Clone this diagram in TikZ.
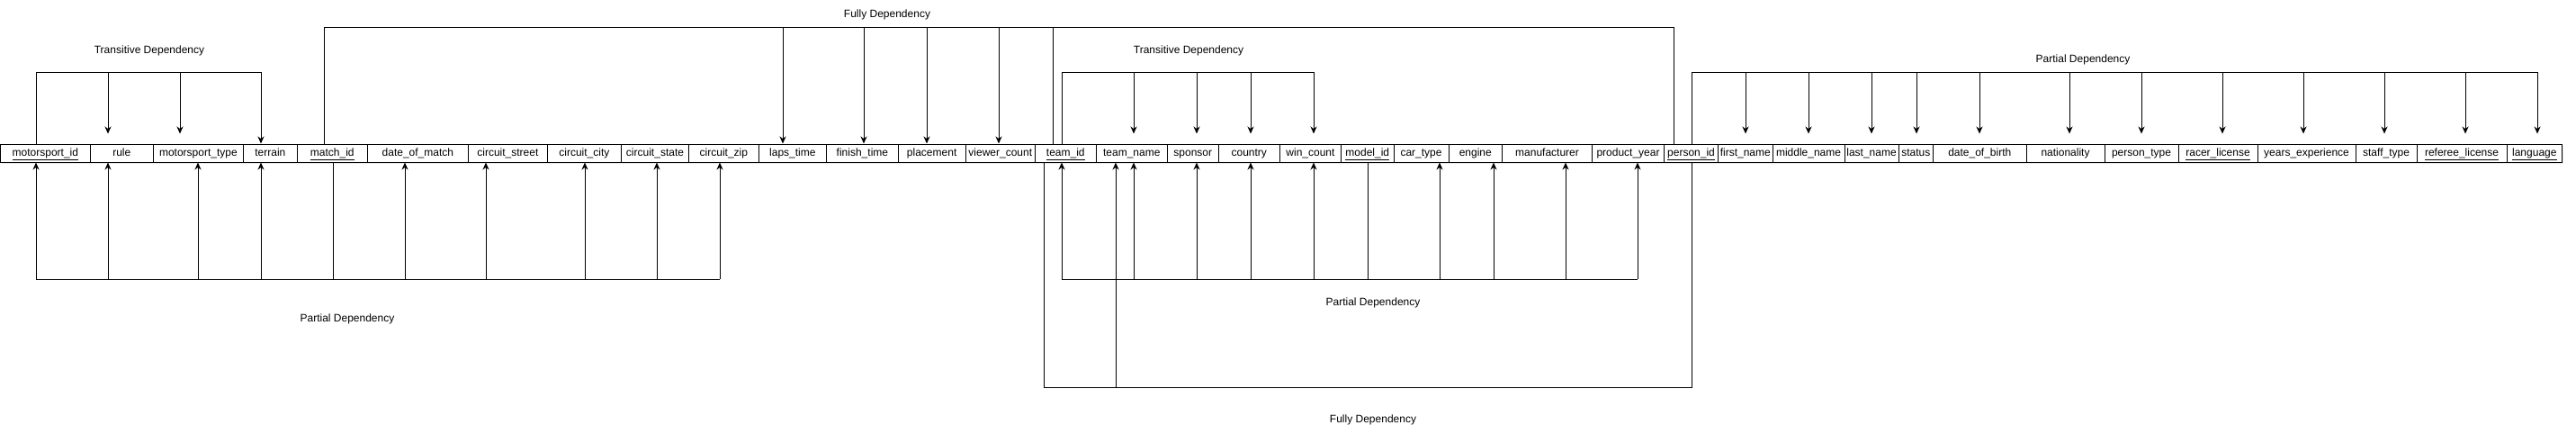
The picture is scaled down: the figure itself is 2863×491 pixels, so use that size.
\documentclass[tikz,border=0pt]{standalone}
\usepackage{fontspec}
\setmainfont{Liberation Sans}
\usetikzlibrary{arrows.meta,calc,shadows}
\newcommand\mkcell[4]{%
  \pgfmathsetmacro\cw{#3-#2}%
  \pgfmathsetmacro\cx{(#2+#3)/2}%
  \node[cellbox,minimum width=\cw pt] (#1) at (\cx,170) {#4};}
\begin{document}
\begin{tikzpicture}[x=1pt,y=-1pt,
  cellbox/.style={draw,line width=1pt,fill=white,minimum height=20pt,inner sep=0pt,
    text height=9pt,text depth=3pt,
    font=\fontsize{12pt}{14pt}\selectfont,
    drop shadow={opacity=0.18,shadow xshift=1.5pt,shadow yshift=-2pt}},
  lbl/.style={font=\fontsize{12pt}{14pt}\selectfont,inner sep=0pt,text height=9pt,text depth=3pt},
  ln/.style={line width=1pt,draw=black},
  arr/.style={ln,-{Stealth[length=8pt,width=7pt,inset=2.5pt]}}]
\fill[white] (0,0) rectangle (2863,491);
\useasboundingbox (0,0) rectangle (2863,491);
% cells
\mkcell{msid}{0.5}{100.3}{\underline{motorsport\_id}}
\mkcell{rule}{100.3}{170.3}{rule}
\mkcell{mstype}{170.3}{270.5}{motorsport\_type}
\mkcell{terrain}{270.5}{330.2}{terrain}
\mkcell{matchid}{330.2}{408.3}{\underline{match\_id}}
\mkcell{dom}{408.3}{520.4}{date\_of\_match}
\mkcell{cstreet}{520.4}{608.4}{circuit\_street}
\mkcell{ccity}{608.4}{690.3}{circuit\_city}
\mkcell{cstate}{690.3}{765.7}{circuit\_state}
\mkcell{czip}{765.7}{843}{circuit\_zip}
\mkcell{laps}{843}{918.8}{laps\_time}
\mkcell{finish}{918.8}{998}{finish\_time}
\mkcell{place}{998}{1073.3}{placement}
\mkcell{viewer}{1073.3}{1150.3}{viewer\_count}
\mkcell{teamid}{1150.3}{1218.3}{\underline{team\_id}}
\mkcell{teamname}{1218.3}{1297.3}{team\_name}
\mkcell{sponsor}{1297.3}{1354.3}{sponsor}
\mkcell{country}{1354.3}{1422.3}{country}
\mkcell{wins}{1422.3}{1490.6}{win\_count}
\mkcell{modelid}{1490.6}{1549}{\underline{model\_id}}
\mkcell{cartype}{1549}{1610}{car\_type}
\mkcell{engine}{1610}{1669.5}{engine}
\mkcell{manuf}{1669.5}{1769.5}{manufacturer}
\mkcell{pyear}{1769.5}{1849.5}{product\_year}
\mkcell{personid}{1849.5}{1909.6}{\underline{person\_id}}
\mkcell{fname}{1909.6}{1970}{first\_name}
\mkcell{mname}{1970}{2050}{middle\_name}
\mkcell{lname}{2050}{2110}{last\_name}
\mkcell{status}{2110}{2148.5}{status}
\mkcell{dob}{2148.5}{2252}{date\_of\_birth}
\mkcell{nation}{2252}{2339}{nationality}
\mkcell{ptype}{2339}{2421}{person\_type}
\mkcell{racer}{2421}{2509}{\underline{racer\_license}}
\mkcell{years}{2509}{2618}{years\_experience}
\mkcell{staff}{2618}{2686}{staff\_type}
\mkcell{referee}{2686}{2786}{\underline{referee\_license}}
\mkcell{lang}{2786}{2847.6}{\underline{language}}
% labels
\node[lbl] (lt1) at (166,56) {Transitive Dependency};
\node[lbl] (lf1) at (986,16) {Fully Dependency};
\node[lbl] (lt2) at (1321,56) {Transitive Dependency};
\node[lbl] (lp3) at (2315,66) {Partial Dependency};
\node[lbl] (lp1) at (386,354) {Partial Dependency};
\node[lbl] (lp2) at (1526,336) {Partial Dependency};
\node[lbl] (lf2) at (1526,466) {Fully Dependency};
% transitive dependency (motorsport)
\draw[arr] (40,0 |- msid.north) -- (40,80) -- (290,80) -- (290,0 |- terrain.north);
\foreach \x/\n in {120/rule,200/mstype}
  \draw[arr] (\x,80) -- ($(\x,0 |- \n.north)+(0,-11)$);
% fully dependency (top)
\draw[ln] (360,0 |- matchid.north) -- (360,30) -- (1860,30) -- (1860,0 |- personid.north);
\draw[ln] (1170,0 |- teamid.north) -- (1170,30);
\foreach \x/\n in {870/laps,960/finish,1030/place,1110/viewer}
  \draw[arr] (\x,30) -- (\x,0 |- \n.north);
% transitive dependency (team)
\draw[ln] (1180,0 |- teamid.north) -- (1180,80) -- (1460,80);
\foreach \x/\n in {1260/teamname,1330/sponsor,1390/country,1460/wins}
  \draw[arr] (\x,80) -- ($(\x,0 |- \n.north)+(0,-11)$);
% partial dependency (match)
\draw[ln] (370,0 |- matchid.south) -- (370,310);
\draw[ln] (40,310) -- (800,310);
\foreach \x/\n in {40/msid,120/rule,220/mstype,290/terrain,450/dom,540/cstreet,650/ccity,730/cstate,800/czip}
  \draw[arr] (\x,310) -- (\x,0 |- \n.south);
% partial dependency (model)
\draw[ln] (1520,0 |- modelid.south) -- (1520,310);
\draw[ln] (1180,310) -- (1820,310);
\foreach \x/\n in {1180/teamid,1260/teamname,1330/sponsor,1390/country,1460/wins,1600/cartype,1660/engine,1740/manuf,1820/pyear}
  \draw[arr] (\x,310) -- (\x,0 |- \n.south);
% fully dependency (bottom)
\draw[ln] (1160,0 |- teamid.south) -- (1160,430) -- (1880,430) -- (1880,0 |- personid.south);
\draw[arr] (1240,430) -- (1240,0 |- teamname.south);
% partial dependency (person)
\draw[ln] (1880,0 |- personid.north) -- (1880,80) -- (2820,80);
\foreach \x/\n in {1940/fname,2010/mname,2080/lname,2130/status,2200/dob,2300/nation,2380/ptype,2470/racer,2560/years,2650/staff,2740/referee,2820/lang}
  \draw[arr] (\x,80) -- ($(\x,0 |- \n.north)+(0,-11)$);
\end{tikzpicture}
\end{document}
